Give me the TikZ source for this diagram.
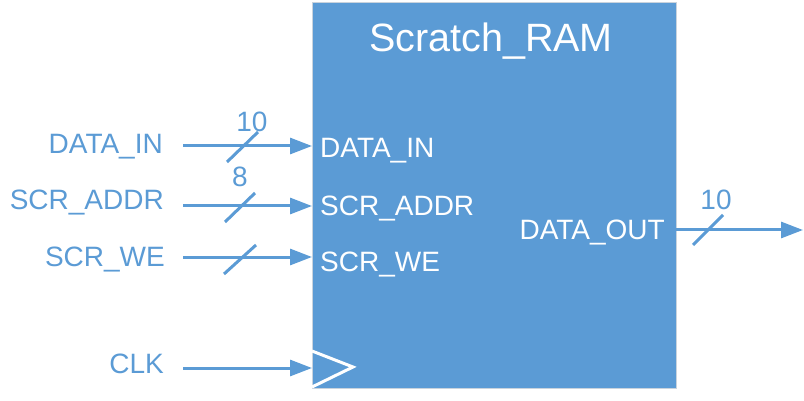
\documentclass[tikz,border=0pt]{standalone}
\usepackage{fontspec}
\setmainfont{Liberation Sans}
\usetikzlibrary{arrows.meta}
\definecolor{ramblue}{HTML}{5B9BD5}
\definecolor{edgegray}{HTML}{C9D3DD}
\tikzset{
  sig/.style={draw=ramblue, line width=3pt, -{Triangle[length=22pt,width=16pt]}},
  busmark/.style={draw=ramblue, line width=3pt},
  outlbl/.style={text=ramblue, inner sep=0pt, font=\fontsize{28}{30}\selectfont},
  inlbl/.style={text=white, inner sep=0pt, font=\fontsize{28}{30}\selectfont},
  numlbl/.style={text=ramblue, inner sep=0pt, anchor=base, font=\fontsize{28}{30}\selectfont},
}
\begin{document}
\begin{tikzpicture}[x=1pt,y=-1pt]
\useasboundingbox (0,0) rectangle (804,401);
% block
\node[draw=edgegray, line width=1pt, fill=ramblue, minimum width=364pt, minimum height=386pt,
      inner sep=0pt, anchor=north west] (ram) at (312,2) {};
\node[text=white, inner sep=0pt, anchor=base, font=\fontsize{39.5}{42}\selectfont] (title) at (491,52) {Scratch\_RAM};
% ports
\coordinate (sA) at (183,146); \coordinate (pA) at (312,146);
\coordinate (sB) at (183,206); \coordinate (pB) at (312,206);
\coordinate (sC) at (183,257); \coordinate (pC) at (312,257);
\coordinate (sD) at (183,368); \coordinate (pD) at (312,368);
\coordinate (pO) at (676,230); \coordinate (eO) at (803,230);
% outer labels
\node[outlbl, anchor=base east] (lA) at (163,154) {DATA\_IN};
\node[outlbl, anchor=base east] (lB) at (164,210) {SCR\_ADDR};
\node[outlbl, anchor=base east] (lC) at (165,266) {SCR\_WE};
\node[outlbl, anchor=base east] (lD) at (164,373) {CLK};
% inner labels
\node[inlbl, anchor=base west] (iA) at (320,158) {DATA\_IN};
\node[inlbl, anchor=base west] (iB) at (320,215) {SCR\_ADDR};
\node[inlbl, anchor=base west] (iC) at (320,271) {SCR\_WE};
\node[inlbl, anchor=base east] (iO) at (665,240) {DATA\_OUT};
% signals
\draw[sig] (sA) -- (pA);
\draw[sig] (sB) -- (pB);
\draw[sig] (sC) -- (pC);
\draw[sig] (sD) -- (pD);
\draw[sig] (pO) -- (eO);
% bus marks
\coordinate (mA1) at (227,162); \coordinate (mA2) at (258,132);
\coordinate (mB1) at (225,222); \coordinate (mB2) at (255,193);
\coordinate (mC1) at (224,274); \coordinate (mC2) at (256,245);
\coordinate (mO1) at (693,245); \coordinate (mO2) at (723,215);
\draw[busmark] (mA1) -- (mA2);
\draw[busmark] (mB1) -- (mB2);
\draw[busmark] (mC1) -- (mC2);
\draw[busmark] (mO1) -- (mO2);
\node[numlbl] (nA) at (252,132) {10};
\node[numlbl] (nB) at (240,187) {8};
\node[numlbl] (nO) at (716,210) {10};
% clock triangle
\coordinate (k1) at (312,351); \coordinate (k2) at (353,367); \coordinate (k3) at (312,387);
\draw[white, line width=3pt, line join=miter] (k1) -- (k2) -- (k3);
\end{tikzpicture}
\end{document}
